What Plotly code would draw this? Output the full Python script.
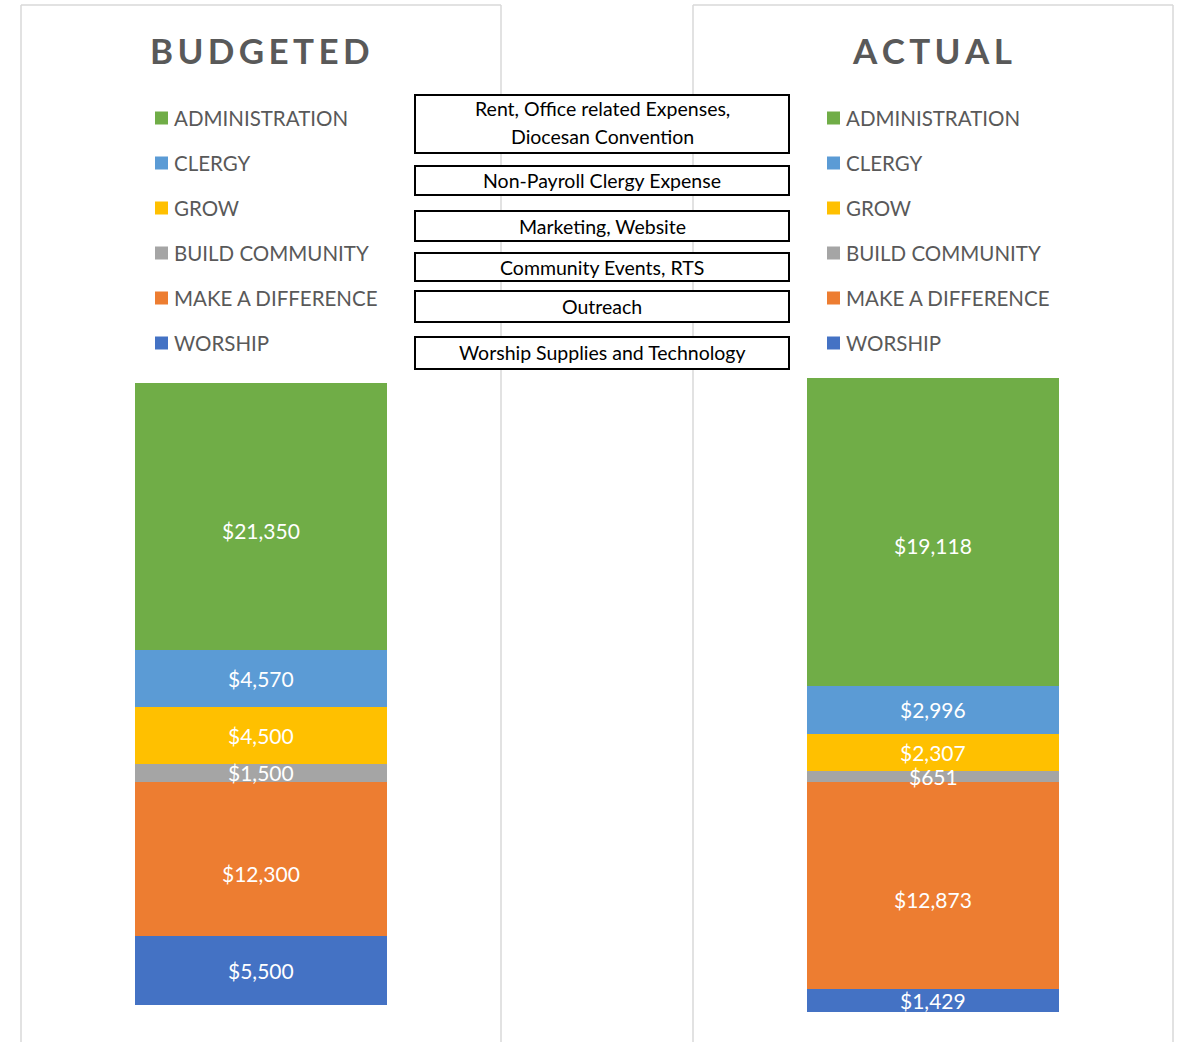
import plotly.graph_objects as go

# ---- data ----
categories = ["WORSHIP", "MAKE A DIFFERENCE", "BUILD COMMUNITY", "GROW", "CLERGY", "ADMINISTRATION"]
budgeted = [5500, 12300, 1500, 4500, 4570, 21350]
actual = [1429, 12873, 651, 2307, 2996, 19118]
colors = ["#4472C4", "#ED7D31", "#A5A5A5", "#FFC000", "#5B9BD5", "#70AD47"]
descriptions = [
    "Rent, Office related Expenses,<br>Diocesan Convention",
    "Non-Payroll Clergy Expense",
    "Marketing, Website",
    "Community Events, RTS",
    "Outreach",
    "Worship Supplies and Technology",
]
panel_titles = ["BUDGETED", "ACTUAL"]
# vertical nudge (px) of each data label, as placed in the original chart
label_shift = [0, -14, 0, 0, 0, -14]

W, H = 1185, 1042
FONT = "Lato"
GRAY = "#595959"


def px(x):
    return x / W


def py(y):
    return 1 - y / H


fig = go.Figure()
annotations = []

for i, cat in enumerate(categories):
    for vals, xa, ya in [(budgeted, "x", "y"), (actual, "x2", "y2")]:
        fig.add_trace(go.Bar(
            x=[0], y=[vals[i]], name=cat, marker=dict(color=colors[i], line=dict(width=0)),
            width=1, xaxis=xa, yaxis=ya, showlegend=False,
            hovertemplate=cat + ": $%{y:,.0f}<extra></extra>",
        ))
        base = sum(vals[:i])
        annotations.append(dict(
            text=f"${vals[i]:,}", xref=xa, yref=ya, x=0, y=base + vals[i] / 2,
            yshift=label_shift[i], showarrow=False, xanchor="center", yanchor="middle",
            font=dict(family=FONT, size=21, color="white"),
        ))

axis_common = dict(visible=False, showgrid=False, zeroline=False, fixedrange=True)
fig.update_layout(
    width=W, height=H,
    margin=dict(l=0, r=0, t=0, b=0),
    paper_bgcolor="white", plot_bgcolor="rgba(0,0,0,0)",
    barmode="stack", bargap=0,
    xaxis=dict(domain=[px(135), px(387)], range=[-0.5, 0.5], **axis_common),
    yaxis=dict(domain=[py(1005), py(383)], range=[0, sum(budgeted)], **axis_common),
    xaxis2=dict(domain=[px(807), px(1059)], range=[-0.5, 0.5], anchor="y2", **axis_common),
    yaxis2=dict(domain=[py(1012), py(378)], range=[0, sum(actual)], anchor="x2", **axis_common),
)

shapes = []

# panel borders (left, top, right lines; bottom is off-page)
for (x0, x1) in [(21, 501), (693, 1173)]:
    for seg in [((x0, 5), (x0, 1060)), ((x0, 5), (x1, 5)), ((x1, 5), (x1, 1060))]:
        shapes.append(dict(type="line", xref="paper", yref="paper",
                           x0=px(seg[0][0]), y0=py(seg[0][1]), x1=px(seg[1][0]), y1=py(seg[1][1]),
                           line=dict(color="#D9D9D9", width=1.5), layer="below"))

# panel titles
for title, cx in zip(panel_titles, [260, 932]):
    annotations.append(dict(text="<b>" + "\u2009".join(title) + "</b>", xref="paper", yref="paper",
                            x=px(cx), y=py(50), xanchor="center", yanchor="middle", showarrow=False,
                            font=dict(family=FONT, size=35, color=GRAY)))

# legends (top-down: reversed stack order)
legend_order = list(range(len(categories)))[::-1]
for sq_x in [155, 827]:
    for row, idx in enumerate(legend_order):
        yc = 118 + 45 * row
        shapes.append(dict(type="rect", xref="paper", yref="paper",
                           x0=px(sq_x), x1=px(sq_x + 13), y0=py(yc - 6.5), y1=py(yc + 6.5),
                           fillcolor=colors[idx], line=dict(width=0)))
        annotations.append(dict(text=categories[idx], xref="paper", yref="paper",
                                x=px(sq_x + 17), y=py(yc), xanchor="left", yanchor="middle",
                                showarrow=False, font=dict(family=FONT, size=20.5, color=GRAY)))

# description boxes (top-down: ADMINISTRATION ... WORSHIP)
box_rows = [(95, 153), (166, 195), (211, 241), (253, 281), (291, 322), (337, 369)]
for (y0, y1), desc in zip(box_rows, descriptions):
    shapes.append(dict(type="rect", xref="paper", yref="paper",
                       x0=px(415), x1=px(789), y0=py(y1), y1=py(y0),
                       fillcolor="white", line=dict(color="black", width=2), layer="above"))
    lines = desc.split("<br>")
    n = len(lines)
    for k, line in enumerate(lines):
        yc = (y0 + y1) / 2 + (k - (n - 1) / 2) * 28 - (1.5 if n > 1 else 0)
        annotations.append(dict(text=line, xref="paper", yref="paper",
                                x=px(602), y=py(yc), xanchor="center", yanchor="middle",
                                showarrow=False, font=dict(family=FONT, size=19.5, color="black")))

fig.update_layout(shapes=shapes, annotations=annotations)
fig.write_html("out.html", config={"displayModeBar": False},
               post_script="document.body.style.margin='0';")
